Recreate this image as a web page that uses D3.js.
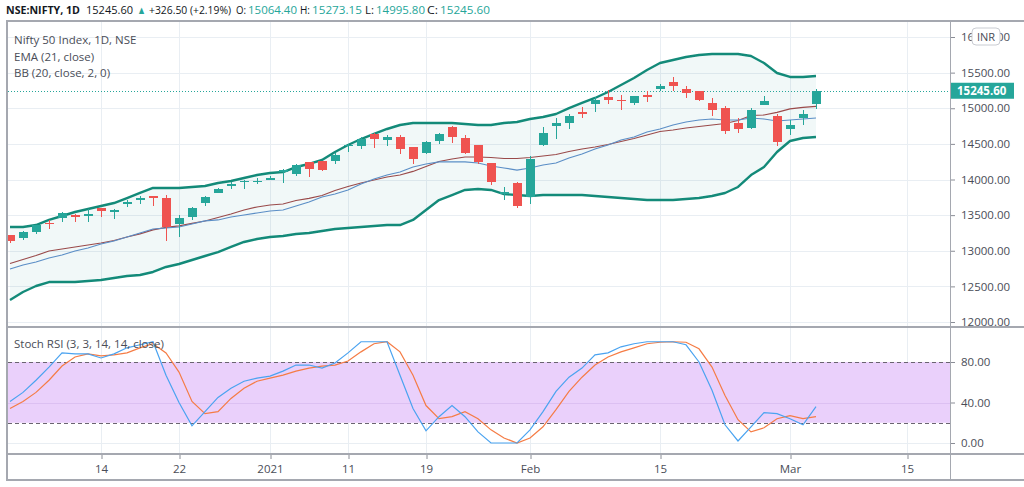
<!DOCTYPE html>
<html>
<head>
<meta charset="utf-8">
<script src="https://d3js.org/d3.v7.min.js"></script>
<style>
  body { margin: 0; background: #fff; }
  text { font-family: "Open Sans", sans-serif; }
</style>
</head>
<body>
<div id="chart"></div>
<script>
// trading days (the last few are future days, only used for the axis)
var dates = ["2020-12-03","2020-12-04","2020-12-07","2020-12-08","2020-12-09","2020-12-10","2020-12-11",
  "2020-12-14","2020-12-15","2020-12-16","2020-12-17","2020-12-18","2020-12-21","2020-12-22","2020-12-23",
  "2020-12-24","2020-12-28","2020-12-29","2020-12-30","2020-12-31","2021-01-01","2021-01-04","2021-01-05",
  "2021-01-06","2021-01-07","2021-01-08","2021-01-11","2021-01-12","2021-01-13","2021-01-14","2021-01-15",
  "2021-01-18","2021-01-19","2021-01-20","2021-01-21","2021-01-22","2021-01-25","2021-01-27","2021-01-28",
  "2021-01-29","2021-02-01","2021-02-02","2021-02-03","2021-02-04","2021-02-05","2021-02-08","2021-02-09",
  "2021-02-10","2021-02-11","2021-02-12","2021-02-15","2021-02-16","2021-02-17","2021-02-18","2021-02-19",
  "2021-02-22","2021-02-23","2021-02-24","2021-02-25","2021-02-26","2021-03-01","2021-03-02","2021-03-03",
  "2021-03-04","2021-03-05","2021-03-08","2021-03-09","2021-03-10","2021-03-12","2021-03-15"];

var opens  = [13215,13177,13265,13394,13458,13500,13505,13597,13550,13660,13714,13765,13742,13372,13473,
  13672,13815,13910,13975,13970,13996,14104,14075,14241,14254,14258,14474,14473,14640,14550,14594,14459,
  14371,14538,14731,14583,14478,14238,13810,13947,13759,14481,14755,14789,14953,15064,15164,15120,15073,
  15186,15270,15371,15267,15236,15075,15000,14790,14722,15052,14889,14703,14863,15064.4];
var highs  = [13217,13280,13367,13435,13549,13520,13579,13598,13587,13712,13773,13771,13778,13500,13620,
  13772,13885,13968,13997,14025,14050,14148,14216,14244,14256,14367,14498,14591,14653,14618,14618,14459,
  14546,14653,14754,14620,14491,14238,13898,13967,14336,14732,14869,14914,15015,15160,15257,15186,15176,
  15244,15340,15432,15315,15236,15144,15030,14863,15010,15177,14919,14835,14975,15273.15];
var lows   = [13108,13153,13242,13311,13401,13400,13403,13474,13446,13614,13651,13627,13131,13192,13432,
  13627,13812,13860,13864,13936,13991,13954,14048,14040,14123,14222,14383,14433,14436,14472,14358,14223,
  14351,14505,14517,14358,14219,13929,13713,13597,13662,14469,14574,14715,14865,14945,15064,14975,15042,
  15081,15243,15242,15144,15100,14891,14640,14652,14710,15052,14468,14625,14765,14995.8];
var closes = [13134,13259,13356,13393,13529,13478,13514,13558,13568,13683,13741,13755,13328,13466,13601,
  13749,13873,13933,13982,13982,14019,14133,14200,14146,14137,14347,14485,14563,14565,14596,14434,14281,
  14521,14645,14590,14372,14239,13968,13818,13635,14281,14648,14790,14896,14924,15116,15109,15107,15173,
  15163,15315,15313,15209,15119,14982,14676,14708,14982,15097,14529,14762,14919,15245.6];

var ema21 = [12744,12800,12842,12898,12940,12996,13039,13095,13137,13193,13249,13305,13319,13333,13375,
  13418,13432,13474,13502,13530,13558,13572,13628,13684,13754,13796,13853,13937,14007,14063,14105,14175,
  14218,14246,14246,14246,14232,14189,14161,14133,14161,14204,14232,14302,14358,14428,14484,14554,14596,
  14667,14709,14765,14807,14835,14849,14835,14835,14863,14849,14821,14835,14849,14863];
var bbBasis = [12821,12877,12933,12997,13025,13053,13081,13109,13144,13193,13236,13292,13327,13348,13383,
  13418,13467,13516,13572,13614,13642,13656,13705,13734,13776,13846,13902,13951,13993,14035,14063,14113,
  14183,14253,14288,14316,14316,14309,14295,14295,14309,14330,14351,14393,14428,14456,14491,14533,14576,
  14625,14674,14695,14723,14744,14765,14786,14828,14898,14905,14941,14990,15011,15025];
var bbUpper = [13333,13333,13361,13432,13488,13544,13586,13628,13670,13740,13811,13881,13881,13881,13895,
  13909,13951,13979,14021,14063,14091,14105,14175,14218,14274,14386,14484,14568,14639,14709,14765,14793,
  14793,14793,14793,14779,14765,14765,14793,14807,14849,14877,14919,15003,15074,15144,15228,15326,15425,
  15537,15635,15677,15719,15747,15761,15761,15761,15733,15635,15495,15439,15439,15453];
var bbLower = [12309,12421,12505,12561,12561,12561,12575,12589,12618,12646,12660,12702,12772,12814,12870,
  12926,12982,13053,13123,13165,13193,13207,13235,13249,13277,13305,13319,13333,13347,13361,13361,13432,
  13572,13712,13782,13853,13867,13853,13796,13782,13768,13782,13782,13782,13782,13768,13754,13740,13726,
  13712,13712,13712,13726,13740,13768,13811,13895,14063,14175,14386,14540,14582,14596];

var stochK = [41,50,62,75,89,88,88,84,88,94,97,100,67,40,17,31,45,54,61,64,66,71,77,77,74,79,89,100,100,
  100,67,34,12,26,37,26,11,0,0,0,13,31,51,65,74,87,89,95,98,100,100,100,97,80,52,18,2,16,30,29,24,18,36];
var stochD = [34,41,50,62,76,85,88,86,87,89,94,98,89,70,41,29,31,44,54,61,64,67,71,74,76,77,81,90,98,100,
  90,67,37,24,26,31,24,13,5,0,5,16,33,51,65,77,85,90,94,98,99.5,100,99.5,93,75,47,23,11,15,24,27,24,26];

var priceTicks = [12000,12500,13000,13500,14000,14500,15000,15500,16000];
var stochTicks = [0,40,80];
var timeTickDates  = ["2020-12-14","2020-12-22","2021-01-01","2021-01-11","2021-01-19","2021-02-01","2021-02-15","2021-03-01","2021-03-15"];
var timeTickLabels = ["14","22","2021","11","19","Feb","15","Mar","15"];

// layout of the panes
var W = 1024, H = 487;
var left = 8, right = 950, mainTop = 22, mainBottom = 327, stochBottom = 454, axisBottom = 481;
var up = "#26a69a", down = "#ef5350", gridColor = "#e9eef3", frameColor = "#a5a8b0", textColor = "#4a4d57";

var svg = d3.select("#chart").append("svg")
  .attr("width", W).attr("height", H)
  .style("display", "block");

svg.append("rect").attr("width", W).attr("height", H).attr("fill", "#fff");

// one step per trading day
var x = d3.scaleLinear().domain([0, 70]).range([10, 920]);
var yPrice = d3.scaleLinear().domain([12000, 16000]).range([322, 37]);
var yStoch = d3.scaleLinear().domain([0, 100]).range([443, 341.75]);

var defs = svg.append("defs");
defs.append("clipPath").attr("id", "clipMain").append("rect")
  .attr("x", left).attr("y", mainTop).attr("width", right - left).attr("height", mainBottom - mainTop);
defs.append("clipPath").attr("id", "clipStoch").append("rect")
  .attr("x", left).attr("y", mainBottom).attr("width", right - left).attr("height", stochBottom - mainBottom);

var tickIdx = timeTickDates.map(function(d) { return dates.indexOf(d); });

// grid
var grid = svg.append("g").attr("shape-rendering", "crispEdges");
grid.selectAll(".vgrid").data(tickIdx).enter().append("line")
  .attr("x1", function(d) { return x(d) + 0.5; }).attr("x2", function(d) { return x(d) + 0.5; })
  .attr("y1", mainTop).attr("y2", stochBottom)
  .attr("stroke", gridColor);
grid.selectAll(".hgrid").data(priceTicks).enter().append("line")
  .attr("x1", left).attr("x2", right)
  .attr("y1", function(d) { return Math.round(yPrice(d)) + 0.5; })
  .attr("y2", function(d) { return Math.round(yPrice(d)) + 0.5; })
  .attr("stroke", gridColor);

// ---------- main pane ----------
var main = svg.append("g").attr("clip-path", "url(#clipMain)");

var bandArea = d3.area()
  .x(function(d, i) { return x(i); })
  .y0(function(d, i) { return yPrice(bbLower[i]); })
  .y1(function(d) { return yPrice(d); });
main.append("path").datum(bbUpper)
  .attr("d", bandArea)
  .attr("fill", "rgba(0,128,128,0.055)");

var priceLine = d3.line()
  .x(function(d, i) { return x(i); })
  .y(function(d) { return yPrice(d); });

main.append("path").datum(bbBasis).attr("d", priceLine)
  .attr("fill", "none").attr("stroke", "#9a4a4a").attr("stroke-width", 1.2);
main.append("path").datum(ema21).attr("d", priceLine)
  .attr("fill", "none").attr("stroke", "#5b8ec6").attr("stroke-width", 1.2);
[bbUpper, bbLower].forEach(function(s) {
  main.append("path").datum(s).attr("d", priceLine)
    .attr("fill", "none").attr("stroke", "#138a79").attr("stroke-width", 2.4)
    .attr("stroke-linejoin", "round");
});

// last price line
var last = closes[closes.length - 1];
main.append("line")
  .attr("x1", left).attr("x2", right)
  .attr("y1", Math.round(yPrice(last)) + 0.5).attr("y2", Math.round(yPrice(last)) + 0.5)
  .attr("stroke", up).attr("stroke-width", 1).attr("stroke-dasharray", "1,2");

// candles
var candles = closes.map(function(c, i) {
  return { i: i, o: opens[i], h: highs[i], l: lows[i], c: c };
});
var cg = main.append("g").attr("shape-rendering", "crispEdges");
cg.selectAll(".wick").data(candles).enter().append("line")
  .attr("x1", function(d) { return x(d.i) + 0.5; })
  .attr("x2", function(d) { return x(d.i) + 0.5; })
  .attr("y1", function(d) { return yPrice(d.h); })
  .attr("y2", function(d) { return yPrice(d.l); })
  .attr("stroke", function(d) { return d.c >= d.o ? up : down; });
cg.selectAll(".body").data(candles).enter().append("rect")
  .attr("x", function(d) { return x(d.i) - 4; })
  .attr("width", 9)
  .attr("y", function(d) { return yPrice(Math.max(d.o, d.c)); })
  .attr("height", function(d) { return Math.max(1.5, Math.abs(yPrice(d.o) - yPrice(d.c))); })
  .attr("fill", function(d) { return d.c >= d.o ? up : down; });

// legend of the main pane
var legend = svg.append("g").attr("font-size", "11.5px").attr("fill", textColor);
legend.append("text").attr("x", 14).attr("y", 44).text("Nifty 50 Index, 1D, NSE");
legend.append("text").attr("x", 14).attr("y", 61).text("EMA (21, close)");
legend.append("text").attr("x", 14).attr("y", 77).text("BB (20, close, 2, 0)");

// ---------- stoch rsi pane ----------
var stoch = svg.append("g").attr("clip-path", "url(#clipStoch)");
stoch.append("rect")
  .attr("x", left).attr("width", right - left)
  .attr("y", yStoch(80)).attr("height", yStoch(20) - yStoch(80))
  .attr("fill", "#ead0fb");
stoch.selectAll(".sgrid").data([0, 40]).enter().append("line")
  .attr("x1", left).attr("x2", right)
  .attr("y1", function(d) { return Math.round(yStoch(d)) + 0.5; })
  .attr("y2", function(d) { return Math.round(yStoch(d)) + 0.5; })
  .attr("stroke", function(d) { return d === 40 ? "#dcc0f2" : gridColor; })
  .attr("shape-rendering", "crispEdges");
stoch.selectAll(".bandline").data([80, 20]).enter().append("line")
  .attr("x1", left).attr("x2", right)
  .attr("y1", function(d) { return Math.round(yStoch(d)) + 0.5; })
  .attr("y2", function(d) { return Math.round(yStoch(d)) + 0.5; })
  .attr("stroke", "#6a6470").attr("stroke-dasharray", "4,3")
  .attr("shape-rendering", "crispEdges");

var stochLine = d3.line()
  .x(function(d, i) { return x(i); })
  .y(function(d) { return yStoch(d); });
stoch.append("path").datum(stochD).attr("d", stochLine)
  .attr("fill", "none").attr("stroke", "#f57c45").attr("stroke-width", 1.2);
stoch.append("path").datum(stochK).attr("d", stochLine)
  .attr("fill", "none").attr("stroke", "#4aa3f0").attr("stroke-width", 1.2);

svg.append("text").attr("x", 14).attr("y", 348)
  .attr("font-size", "11.5px").attr("fill", textColor)
  .text("Stoch RSI (3, 3, 14, 14, close)");

// ---------- axes ----------
var priceAxis = svg.append("g")
  .attr("transform", "translate(" + right + ",0)")
  .call(d3.axisRight(yPrice).tickValues(priceTicks).tickFormat(d3.format(".2f")).tickSize(5).tickPadding(6));
var stochAxis = svg.append("g")
  .attr("transform", "translate(" + right + ",0)")
  .call(d3.axisRight(yStoch).tickValues(stochTicks).tickFormat(d3.format(".2f")).tickSize(5).tickPadding(6));
var timeAxis = svg.append("g")
  .attr("transform", "translate(0," + stochBottom + ")")
  .call(d3.axisBottom(x).tickValues(tickIdx)
    .tickFormat(function(d, i) { return timeTickLabels[i]; }).tickSize(5).tickPadding(6));

[priceAxis, stochAxis, timeAxis].forEach(function(a) {
  a.select(".domain").remove();
  a.selectAll(".tick line").attr("stroke", "#8a8d96");
  a.selectAll(".tick text").attr("fill", textColor).style("font-size", "11.5px")
    .style("font-family", "'Open Sans', sans-serif");
});
timeAxis.selectAll(".tick line").attr("transform", "translate(0.5,0)");

// last price label on the axis
svg.append("rect")
  .attr("x", right).attr("y", yPrice(last) - 8).attr("width", 64).attr("height", 16)
  .attr("fill", up);
svg.append("text")
  .attr("x", right + 7).attr("y", yPrice(last) + 4.5)
  .attr("font-size", "11.5px").attr("font-weight", "bold").attr("fill", "#fff")
  .text(d3.format(".2f")(last));

// currency badge
svg.append("rect")
  .attr("x", 972).attr("y", 28).attr("width", 28).attr("height", 17).attr("rx", 4)
  .attr("fill", "#fff").attr("stroke", "#c9ccd2");
svg.append("text")
  .attr("x", 986).attr("y", 41).attr("text-anchor", "middle")
  .attr("font-size", "11px").attr("fill", textColor).text("INR");

// ---------- frame ----------
var frame = svg.append("g").attr("stroke", frameColor).attr("fill", "none").attr("shape-rendering", "crispEdges");
frame.append("rect").attr("x", left - 1).attr("y", mainTop - 1)
  .attr("width", W - left + 4).attr("height", axisBottom - mainTop).attr("stroke-width", 2);
frame.append("line").attr("x1", left).attr("x2", W).attr("y1", mainBottom).attr("y2", mainBottom).attr("stroke-width", 2);
frame.append("line").attr("x1", left).attr("x2", W).attr("y1", stochBottom).attr("y2", stochBottom).attr("stroke-width", 2);
frame.append("line").attr("x1", right + 0.5).attr("x2", right + 0.5).attr("y1", mainTop).attr("y2", axisBottom);

// ---------- header ----------
// each piece placed where it sits in the picture, squeezed to its width there
var pieces = [
  { x: 6,   w: 74, t: "NSE:NIFTY, 1D", bold: true, c: "#131722" },
  { x: 86,  w: 47, t: d3.format(".2f")(last), c: "#131722" },
  { x: 137, w: 9,  t: "▲", c: up },
  { x: 149, w: 82, t: "+326.50 (+2.19%)", c: "#131722" },
  { x: 236, w: 10, t: "O:", c: "#131722" },
  { x: 248, w: 49, t: d3.format(".2f")(opens[opens.length - 1]), c: up },
  { x: 300, w: 10, t: "H:", c: "#131722" },
  { x: 312, w: 50, t: d3.format(".2f")(highs[highs.length - 1]), c: up },
  { x: 365, w: 9,  t: "L:", c: "#131722" },
  { x: 376, w: 49, t: d3.format(".2f")(lows[lows.length - 1]), c: up },
  { x: 427, w: 11, t: "C:", c: "#131722" },
  { x: 440, w: 50, t: d3.format(".2f")(last), c: up }
];
svg.append("g").selectAll("text").data(pieces).enter().append("text")
  .attr("x", function(d) { return d.x; })
  .attr("y", 14)
  .attr("font-size", "11px")
  .attr("font-weight", function(d) { return d.bold ? "bold" : "normal"; })
  .attr("fill", function(d) { return d.c; })
  .attr("textLength", function(d) { return d.w; })
  .attr("lengthAdjust", "spacingAndGlyphs")
  .text(function(d) { return d.t; });
</script>
</body>
</html>
